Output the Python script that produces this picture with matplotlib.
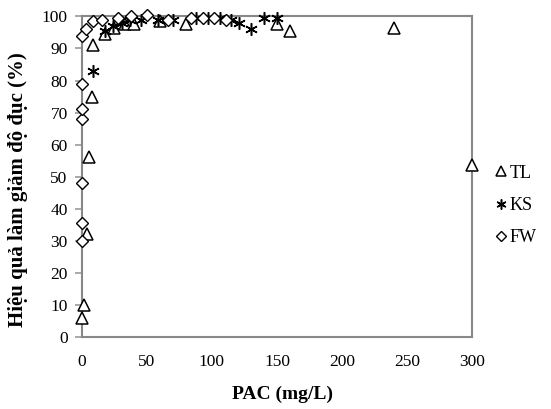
import matplotlib
matplotlib.use("Agg")
import matplotlib.pyplot as plt

plt.rcParams['font.family'] = ['Liberation Serif', 'DejaVu Serif']

# Data
tl_x = [0, 2, 4, 6, 8, 9, 18, 25, 33, 40, 60, 80, 150, 160, 240, 300]
tl_y = [6, 10, 32, 56, 75, 91, 94.5, 96.5, 97.5, 97.5, 98.5, 97.5, 97.5, 95.5, 96.5, 53.5]

ks_x = [9, 18, 24, 31, 37, 46, 59, 70, 88, 97, 106, 115, 121, 130, 140, 150]
ks_y = [83, 95.5, 97, 98, 99, 99, 99, 99, 99.5, 99.5, 99.5, 99, 98, 96, 99.5, 99.5]

fw_x = [0, 0, 0, 0, 0, 0, 0, 3.5, 9, 16, 28, 38, 50, 66, 84, 93, 102, 111]
fw_y = [30, 35.5, 48, 68, 71, 79, 94, 96, 98.5, 99, 99.5, 100, 100.5, 99, 99.5, 99.5, 99.5, 99]

x_ticks = [0, 50, 100, 150, 200, 250, 300]
y_ticks = [0, 10, 20, 30, 40, 50, 60, 70, 80, 90, 100]

fig = plt.figure(figsize=(5.51, 4.09), dpi=100)
ax = fig.add_axes([0.148, 0.176, 0.7095, 0.7839])

common = dict(linestyle='none', markerfacecolor='white', markeredgecolor='black',
              clip_on=False)
ax.plot(tl_x, tl_y, marker='^', markersize=9, markeredgewidth=1.1, label='TL', zorder=3, **common)
ax.plot(ks_x, ks_y, marker=(6, 2, 0), markersize=9, markeredgewidth=1.1, label='KS', zorder=4, **common)
ax.plot(fw_x, fw_y, marker='D', markersize=6, markeredgewidth=1.0, label='FW', zorder=5, **common)

ax.set_xlim(0, 300)
ax.set_ylim(0, 100)
ax.set_xticks(x_ticks)
ax.set_yticks(y_ticks)
ax.tick_params(axis='x', length=0, pad=12, labelsize=12.5)
ax.tick_params(axis='y', length=5, width=1.2, color='#999999', pad=5, labelsize=12.5)
for s in ax.spines.values():
    s.set_color('#888888')
    s.set_linewidth(1.5)

ax.set_xlabel('PAC (mg/L)', fontsize=14, fontweight='bold')
ax.set_ylabel('Hiệu quả làm giảm độ đục (%)', fontsize=15, fontweight='bold')
ax.xaxis.set_label_coords(0.515, -0.152)
ax.yaxis.set_label_coords(-0.137, 0.46)

leg = ax.legend(loc='center left', bbox_to_anchor=(1.012, 0.41), frameon=False,
                fontsize=13, handlelength=0.8, handletextpad=0.1, labelspacing=0.85,
                markerscale=0.8)

fig.savefig('out.png', dpi=100)
